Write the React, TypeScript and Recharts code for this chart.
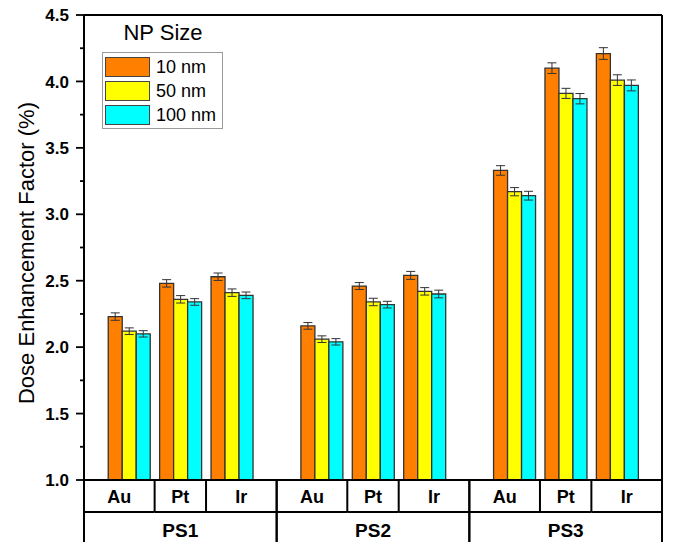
import { BarChart, Bar, XAxis, YAxis, ErrorBar, Legend, ReferenceLine } from "recharts";

const GROUPS = ["PS1", "PS2", "PS3"];
const METALS = ["Au", "Pt", "Ir"];
const SERIES = ["10 nm", "50 nm", "100 nm"];

// values per bar, order: PS1 Au/Pt/Ir, PS2 Au/Pt/Ir, PS3 Au/Pt/Ir
const DEF_10 = [2.23, 2.48, 2.53, 2.16, 2.46, 2.54, 3.33, 4.10, 4.21];
const DEF_50 = [2.12, 2.36, 2.41, 2.06, 2.34, 2.42, 3.17, 3.91, 4.01];
const DEF_100 = [2.10, 2.34, 2.39, 2.04, 2.32, 2.40, 3.14, 3.87, 3.97];
const ERR_10 = [0.028, 0.028, 0.028, 0.025, 0.026, 0.03, 0.036, 0.04, 0.044];
const ERR_50 = [0.025, 0.028, 0.028, 0.025, 0.028, 0.028, 0.031, 0.038, 0.04];
const ERR_100 = [0.024, 0.025, 0.025, 0.024, 0.025, 0.029, 0.033, 0.039, 0.041];

const Y_MAJOR = [1.0, 1.5, 2.0, 2.5, 3.0, 3.5, 4.0, 4.5];
const Y_MINOR = [1.25, 1.75, 2.25, 2.75, 3.25, 3.75, 4.25];

const COLORS = ["#FF8000", "#FFFF00", "#00FFFF"];
const FONT = '"Liberation Sans", Arial, Helvetica, sans-serif';

// layout
const WIDTH = 678;
const HEIGHT = 542;
const PLOT_LEFT = 84;
const PLOT_RIGHT = 662;
const PLOT_TOP = 15;
const X_AXIS_H = 62;
const PLOT_BOTTOM = HEIGHT - X_AXIS_H;
const GROUP_GAP = 0.748; // extra space between groups, in bar-slot units
const HALF = (1 + GROUP_GAP) / 2;
const X_MIN = -HALF;
const X_MAX = (GROUPS.length - 1) * (METALS.length + GROUP_GAP) + METALS.length - 1 + HALF;
const PPU = (PLOT_RIGHT - PLOT_LEFT) / (X_MAX - X_MIN);

const rows = GROUPS.flatMap((g, gi) =>
  METALS.map((m, mi) => {
    const k = gi * METALS.length + mi;
    return {
      pos: gi * (METALS.length + GROUP_GAP) + mi,
      group: g,
      metal: m,
      gi,
      mi,
      v10: DEF_10[k],
      v50: DEF_50[k],
      v100: DEF_100[k],
      e10: ERR_10[k],
      e50: ERR_50[k],
      e100: ERR_100[k],
    };
  })
);

function renderBoxTick(props: any) {
  const { x, index } = props;
  const r = rows[index];
  if (!r) return <g />;
  const last = r.mi === METALS.length - 1;
  const left = x - (r.mi === 0 ? HALF : 0.5) * PPU;
  const right = x + (last ? HALF : 0.5) * PPU;
  const rowY = PLOT_BOTTOM + 32;
  return (
    <g>
      <line x1={left} x2={right} y1={rowY} y2={rowY} stroke="#000" strokeWidth={2} />
      <line x1={right} x2={right} y1={PLOT_BOTTOM} y2={last ? HEIGHT : rowY} stroke="#000" strokeWidth={2} />
      {r.mi === 0 && (
        <line x1={left} x2={left} y1={PLOT_BOTTOM} y2={HEIGHT} stroke="#000" strokeWidth={2} />
      )}
      <text x={(left + right) / 2} y={PLOT_BOTTOM + 23} textAnchor="middle" fontFamily={FONT} fontSize={18} fontWeight="bold" fill="#000">
        {r.metal}
      </text>
      {r.mi === 1 && (
        <text x={x} y={PLOT_BOTTOM + 57} textAnchor="middle" fontFamily={FONT} fontSize={19} fontWeight="bold" fill="#000">
          {r.group}
        </text>
      )}
    </g>
  );
}

function renderYTick(props: any) {
  const { y, payload } = props;
  const v = payload.value;
  const major = Y_MAJOR.includes(v);
  return (
    <g>
      <line x1={PLOT_LEFT - (major ? 8 : 4)} x2={PLOT_LEFT} y1={y} y2={y} stroke="#000" strokeWidth={1.8} />
      {major && (
        <text x={PLOT_LEFT - 15} y={y} dy="0.36em" textAnchor="end" fontFamily={FONT} fontSize={17} fontWeight="bold" fill="#000">
          {v.toFixed(1)}
        </text>
      )}
    </g>
  );
}

function renderLegend() {
  return (
    <div style={{ fontFamily: FONT, color: "#000", textAlign: "left" }}>
      <div style={{ fontSize: 22, lineHeight: "26px", textAlign: "center", width: 122, marginBottom: 6 }}>NP Size</div>
      <div style={{ border: "1.5px solid #9a9a9a", width: 117, padding: "2px 0 1px 2px" }}>
        {SERIES.map((s, i) => (
          <div key={s} style={{ display: "flex", alignItems: "center", height: 24 }}>
            <div style={{ width: 43, height: 18, background: COLORS[i], border: "1.5px solid #444" }} />
            <span style={{ fontSize: 18, marginLeft: 6, lineHeight: "20px" }}>{s}</span>
          </div>
        ))}
      </div>
    </div>
  );
}

export default function App() {
  return (
    <div style={{ position: "absolute", left: 0, top: 0, background: "#fff" }}>
      <BarChart
        width={WIDTH}
        height={HEIGHT}
        data={rows}
        margin={{ top: PLOT_TOP, right: WIDTH - PLOT_RIGHT, left: 0, bottom: 0 }}
        barGap={0}
      >
        <XAxis
          dataKey="pos"
          type="number"
          domain={[X_MIN, X_MAX]}
          ticks={rows.map((r) => r.pos)}
          interval={0}
          allowDataOverflow
          tick={renderBoxTick}
          tickLine={false}
          axisLine={{ stroke: "#000", strokeWidth: 2 }}
          height={X_AXIS_H}
        />
        <YAxis
          type="number"
          domain={[1, 4.5]}
          ticks={[...Y_MAJOR, ...Y_MINOR].sort((a, b) => a - b)}
          interval={0}
          allowDataOverflow
          width={PLOT_LEFT}
          tick={renderYTick}
          tickLine={false}
          axisLine={{ stroke: "#000", strokeWidth: 2 }}
          label={{
            content: () => (
              <text
                x={26}
                y={253}
                transform="rotate(-90, 26, 253)"
                textAnchor="middle"
                dy="0.36em"
                fontFamily={FONT}
                fontSize={22}
                fill="#000"
              >
                Dose Enhancement Factor (%)
              </text>
            ),
          }}
        />
        <ReferenceLine y={4.5} stroke="#000" strokeWidth={2} ifOverflow="visible" />
        <ReferenceLine x={X_MAX} stroke="#000" strokeWidth={2} ifOverflow="visible" />
        <Legend
          content={renderLegend}
          layout="horizontal"
          verticalAlign="middle"
          align="center"
          wrapperStyle={{ left: 102, top: 20, width: 125 }}
        />
        <Bar dataKey="v10" name={SERIES[0]} fill={COLORS[0]} stroke="#333" strokeWidth={1.3} barSize={14} isAnimationActive={false}>
          <ErrorBar dataKey="e10" width={4.5} stroke="#333" strokeWidth={1} />
        </Bar>
        <Bar dataKey="v50" name={SERIES[1]} fill={COLORS[1]} stroke="#333" strokeWidth={1.3} barSize={14} isAnimationActive={false}>
          <ErrorBar dataKey="e50" width={4.5} stroke="#333" strokeWidth={1} />
        </Bar>
        <Bar dataKey="v100" name={SERIES[2]} fill={COLORS[2]} stroke="#333" strokeWidth={1.3} barSize={14} isAnimationActive={false}>
          <ErrorBar dataKey="e100" width={4.5} stroke="#333" strokeWidth={1} />
        </Bar>
      </BarChart>
    </div>
  );
}
